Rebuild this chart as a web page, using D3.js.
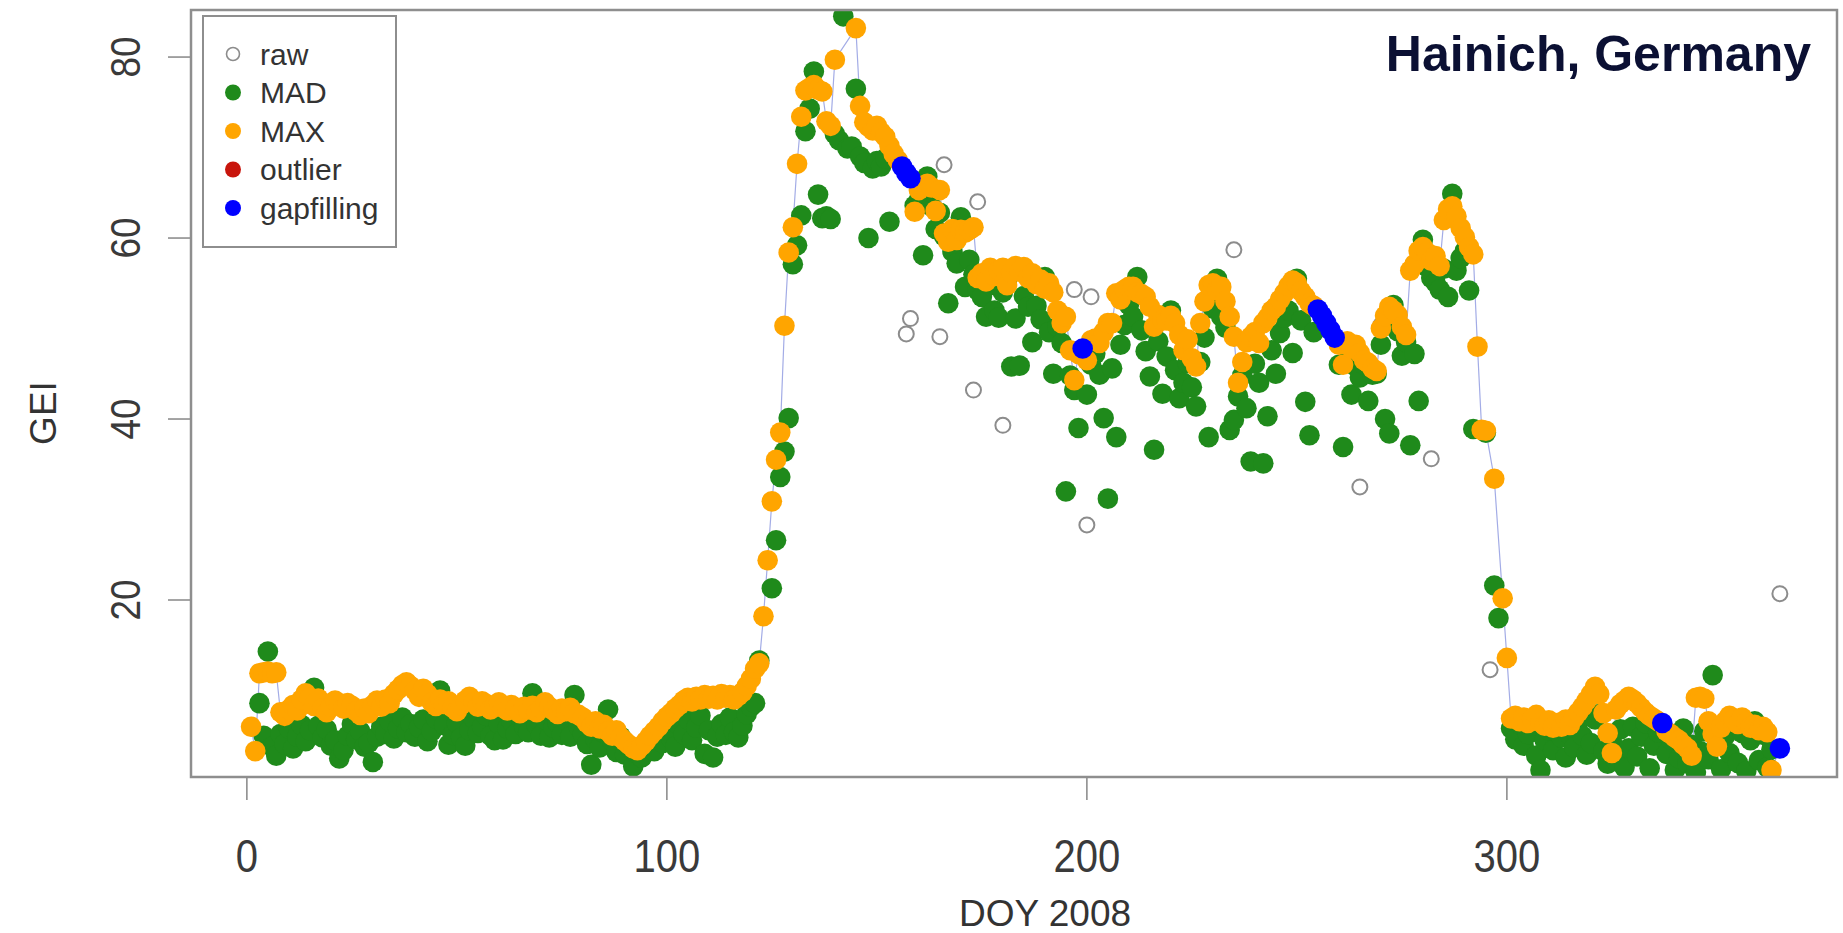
<!DOCTYPE html>
<html lang='en'>
  <head>
    <meta charset="utf-8">
    <title>GEI Hainich</title>
    <style>
      body { margin: 0; background: #ffffff; }
      text { font-family: "Liberation Sans", Arial, sans-serif; }
    </style>
    <!-- Load d3.js -->
    <script src="https://d3js.org/d3.v7.min.js"></script>
  </head>
  <body>

    <div id="gei_plot"></div>

  <script>

    // MAX filtered GEI, one value per DOY 1..366 (null = no point)
    var maxVal = [
      6.0, 3.3, 11.9, 12.0, 12.1, 11.9, 12.0, 7.6, 7.2, 7.9,
      8.4, 7.8, 9.0, 9.7, 9.2, 8.3, 9.1, 8.0, 7.6, 8.2,
      8.9, 8.4, 8.0, 8.6, 8.3, 7.7, 7.3, 8.0, 7.5, 8.4,
      8.9, 8.2, 9.0, 8.6, 9.6, 10.1, 10.6, 10.9, 10.5, 10.0,
      9.3, 10.2, 9.6, 8.7, 8.3, 9.0, 8.5, 8.8, 8.1, 7.7,
      8.4, 8.9, 9.3, 8.7, 8.2, 8.8, 8.5, 7.9, 8.3, 8.7,
      8.1, 7.8, 8.4, 8.0, 7.5, 8.2, 7.9, 8.3, 7.6, 8.0,
      8.7, 8.2, 7.8, 7.4, 8.0, 7.7, 8.1, 7.5, 7.3, 7.0,
      6.4, 6.0, 6.6, 5.8, 6.2, 5.5, 5.0, 5.6, 4.8, 4.4,
      4.0, 3.6, 3.4, 3.9, 4.4, 5.0, 5.5, 6.0, 6.6, 7.1,
      7.5, 8.0, 8.4, 8.9, 9.2, 8.8, 9.3, 9.0, 9.5, 9.1,
      9.4, 9.0, 9.6, 9.2, 9.5, 9.0, 9.4, 9.8, 10.5, 11.3,
      12.4, 13.0, 18.2, 24.4, 30.9, 35.5, 38.5, 50.3, 58.4, 61.2,
      68.2, 73.4, 76.3, 76.6, 76.9, 76.4, 76.2, 72.9, 72.4, 79.7,
      null, null, null, null, 83.2, 74.6, 72.8, 72.3, 71.9, 72.4,
      71.7, 71.2, 70.2, 69.3, 68.6, null, null, null, 62.9, 65.3,
      65.8, 66.0, 65.6, 63.0, 65.3, 60.5, 59.6, 61.0, 59.8, 60.9,
      60.6, 60.9, 61.2, 55.6, 56.1, 55.2, 56.7, 55.8, 56.4, 56.7,
      54.8, 56.2, 56.9, 56.3, 56.8, 55.6, 56.1, 54.9, 55.4, 54.4,
      55.0, 54.0, 52.0, 50.6, 51.3, 47.6, 44.3, 47.2, null, 46.5,
      48.7, 48.9, 48.4, 49.6, 50.6, 50.6, 53.9, 53.2, 54.3, 54.6,
      54.6, 54.0, 53.8, 53.5, 52.4, 50.2, 51.5, 50.9, 50.9, 51.4,
      50.6, 49.3, 47.6, 48.8, 46.7, 45.8, 50.6, 53.0, 54.8, 55.0,
      54.2, 54.6, 53.0, 51.3, 49.1, 44.0, 46.3, 48.5, 49.1, 49.6,
      48.4, 50.6, 51.2, 52.0, 52.4, 53.2, 53.9, 54.7, 55.3, 55.0,
      54.1, 53.5, 52.8, 52.5, null, null, null, null, null, 48.2,
      46.0, 48.6, 47.8, 48.2, 47.3, 46.5, 46.2, 45.6, 45.3, 50.0,
      51.4, 52.4, 52.0, 51.5, 50.2, 49.3, 56.4, 57.1, 58.6, 59.0,
      58.4, 57.5, 58.0, 56.9, 62.0, 63.2, 63.5, 62.4, 61.1, 60.1,
      59.0, 58.2, 48.0, 38.8, 38.7, null, 33.4, null, 20.2, 13.6,
      6.9, 7.2, 6.6, 7.0, 6.4, 6.8, 7.3, 6.5, 6.1, 6.7,
      5.9, 6.4, 6.0, 6.8, 6.2, 7.0, 7.6, 8.2, 8.9, 9.6,
      10.4, 9.6, 7.5, 5.3, 3.1, 7.9, 8.5, 8.9, 9.3, 9.0,
      8.6, 8.1, 7.6, 7.2, 6.9, 6.6, null, 5.5, 5.2, 4.8,
      4.5, 4.0, 3.6, 2.8, 9.2, 9.3, 9.1, 6.6, 5.2, 3.8,
      5.9, 6.6, 7.2, 6.8, 6.3, 7.0, 6.5, 5.9, 6.2, 5.6,
      6.0, 5.4, 1.2, null, null, null
    ];

    // MAD filtered GEI, one value per DOY 1..366
    var madVal = [
      null, null, 8.6, 5.0, 14.3, 3.8, 2.8, 5.2, 4.1, 5.8,
      3.6, 4.9, 6.2, 4.4, 5.6, 10.3, 6.1, 4.8, 5.7, 3.9,
      4.5, 2.5, 3.4, 5.0, 6.3, 4.6, 5.5, 3.8, 4.2, 2.1,
      4.9, 6.0, 5.2, 6.6, 4.7, 5.8, 7.0, 5.4, 6.3, 4.9,
      5.9, 6.8, 4.4, 5.5, 6.9, 10.0, 6.2, 4.0, 5.1, 6.4,
      4.8, 3.9, 5.6, 6.9, 5.3, 6.0, 7.2, 5.0, 4.5, 6.3,
      4.6, 5.8, 6.6, 5.2, 7.1, 6.0, 5.4, 9.7, 6.2, 5.0,
      6.8, 4.8, 5.9, 6.4, 5.1, 6.7, 4.9, 9.5, 6.0, 5.2,
      4.1, 1.8, 4.6, 3.7, 5.3, 7.9, 4.4, 3.2, 4.9, 2.9,
      3.8, 1.6, 3.0, 2.6, 3.9, 4.6, 3.3, 5.0, 4.2, 5.6,
      4.7, 3.8, 6.1, 5.2, 6.8, 4.5, 5.9, 7.2, 3.0, 5.6,
      2.6, 4.9, 6.3, 5.1, 7.0, 5.4, 4.8, 6.1, 7.4, 8.2,
      8.6, 13.3, null, null, 21.3, 26.6, 33.6, 36.4, 40.1, 57.1,
      59.2, 62.5, 71.8, 74.3, 78.4, 64.8, 62.2, 62.4, 62.1, 71.5,
      70.8, 84.5, 69.9, 70.1, 76.5, 69.0, 68.3, 60.0, 67.7, 68.5,
      67.9, 68.8, 61.8, 69.0, null, null, null, null, 63.6, 64.2,
      58.1, 66.8, 63.5, 61.0, 62.8, 60.2, 52.8, 58.5, 57.2, 62.3,
      54.6, 57.6, 56.0, 54.2, 53.5, 51.3, 54.8, 52.0, 51.2, 54.0,
      55.4, 45.8, 51.1, 45.9, 53.6, 52.4, 48.5, 52.5, 51.0, 55.7,
      49.6, 45.0, 50.2, 48.4, 32.0, 44.8, 43.2, 39.0, null, 42.7,
      46.0, 47.2, 44.9, 40.1, 31.2, 45.6, 38.0, 48.2, 50.4, 52.6,
      51.3, 55.7, 49.8, 47.5, 44.7, 36.6, 48.6, 42.8, 46.9, 52.0,
      45.4, 42.3, 44.0, 46.2, 43.5, 41.4, 46.3, 49.0, 38.0, 52.2,
      55.5, 51.3, 50.1, 38.8, 39.9, 42.5, 44.8, 41.2, 35.3, 46.1,
      44.0, 35.1, 40.3, 47.6, 45.0, 49.5, 51.2, 52.0, 47.3, 55.5,
      50.9, 41.9, 38.2, 49.6, null, null, null, null, null, 46.0,
      36.9, 46.4, 42.7, 45.8, 44.6, 46.0, 42.0, 44.9, 45.0, 48.2,
      40.0, 38.4, 52.6, 49.7, 47.0, 48.5, 37.1, 47.2, 42.0, 59.8,
      56.8, 55.6, 55.1, 54.3, 56.6, 53.5, 64.9, 56.4, 57.8, 58.6,
      54.2, 38.9, null, null, 38.5, null, 21.6, 18.0, null, null,
      5.8, 4.6, 6.3, 3.9, 5.2, 6.1, 2.8, 1.2, 4.5, 5.6,
      3.4, 6.2, 4.8, 2.6, 5.1, 3.7, 6.5, 5.0, 2.9, 4.2,
      6.8, 7.4, 3.3, 1.9, 4.4, 2.2, 5.7, 1.5, 3.6, 6.0,
      2.7, 4.9, 6.4, 1.4, 3.9, 5.4, null, 3.0, 4.6, 1.2,
      2.5, 5.8, 1.9, 4.0, 1.0, 3.3, 5.5, 2.4, 11.7, 4.1,
      1.3, 5.0, 3.1, 6.9, 2.0, 5.3, 1.1, 4.5, 6.6, 2.3,
      5.1, 1.5, 3.5, null, null, null
    ];

    // raw values that were removed by the filters (visible as open circles)
    var rawDoy = [157, 158, 165, 166, 173, 174, 180, 197, 200, 201, 235, 265, 270, 282, 296, 365];
    var rawVal = [49.4, 51.1, 49.1, 68.1, 43.2, 64.0, 39.3, 54.3, 28.3, 53.5, 58.7, 32.5, 50.4, 35.6, 12.3, 20.7];

    // gap filled days
    var gapDoy = [156, 157, 158, 199, 255, 256, 257, 258, 259, 337, 365];
    var gapVal = [67.9, 67.2, 66.6, 47.8, 52.1, 51.4, 50.6, 49.8, 49.0, 6.4, 3.6];

    // outliers (none flagged this year)
    var outDoy = [];
    var outVal = [];

    var xTicks = [0, 100, 200, 300];
    var yTicks = [20, 40, 60, 80];
    var legendLabels = ["raw", "MAD", "MAX", "outlier", "gapfilling"];
    var legendColors = ["none", "#1f8a1b", "#ffa500", "#c8150c", "#0000ff"];

    var W = 1843, H = 933;
    var box = {left: 191, right: 1837, top: 10, bottom: 777};

    var svg = d3.select("#gei_plot")
      .append("svg")
        .attr("width", W)
        .attr("height", H);

    var x = d3.scaleLinear()
      .domain([-13.3, 378.6])
      .range([box.left, box.right]);

    var y = d3.scaleLinear()
      .domain([0.44, 85.2])
      .range([box.bottom, box.top]);

    // turn the day arrays into point lists
    function toPoints(vals) {
      var pts = [];
      vals.forEach(function(v, i) { if (v !== null) pts.push({doy: i + 1, v: v}); });
      return pts;
    }
    function pairs(ds, vs) {
      return ds.map(function(d, i) { return {doy: d, v: vs[i]}; });
    }

    var madPts = toPoints(madVal);
    var maxPts = toPoints(maxVal);
    var rawPts = pairs(rawDoy, rawVal);
    var gapPts = pairs(gapDoy, gapVal);
    var outPts = pairs(outDoy, outVal);

    // final series = MAX plus gap filled values
    var finalPts = maxPts.concat(gapPts).sort(function(a, b) { return a.doy - b.doy; });

    svg.append("clipPath").attr("id", "plotclip")
      .append("rect")
        .attr("x", box.left).attr("y", box.top)
        .attr("width", box.right - box.left).attr("height", box.bottom - box.top);

    var plot = svg.append("g").attr("clip-path", "url(#plotclip)");

    // thin line of the final series
    var line = d3.line()
      .x(function(d) { return x(d.doy) })
      .y(function(d) { return y(d.v) });
    plot.append("path")
      .attr("d", line(finalPts))
      .attr("fill", "none")
      .attr("stroke", "#a3ace6")
      .attr("stroke-width", 1.2);

    // raw
    plot.selectAll("rawPts")
      .data(rawPts)
      .enter()
      .append("circle")
        .attr("cx", function(d) { return x(d.doy) })
        .attr("cy", function(d) { return y(d.v) })
        .attr("r", 7.5)
        .attr("fill", "none")
        .attr("stroke", "#8c8c8c")
        .attr("stroke-width", 2);

    function dots(pts, color, r) {
      plot.append("g")
        .attr("fill", color)
        .selectAll("circle")
        .data(pts)
        .enter()
        .append("circle")
          .attr("cx", function(d) { return x(d.doy) })
          .attr("cy", function(d) { return y(d.v) })
          .attr("r", r);
    }
    dots(madPts, legendColors[1], 10.3);
    dots(maxPts, legendColors[2], 10.3);
    dots(outPts, legendColors[3], 10.3);
    dots(gapPts, legendColors[4], 10.3);

    // box
    svg.append("rect")
      .attr("x", box.left).attr("y", box.top)
      .attr("width", box.right - box.left).attr("height", box.bottom - box.top)
      .attr("fill", "none")
      .attr("stroke", "#8e8e8e")
      .attr("stroke-width", 2.5);

    // x axis
    var xa = svg.append("g");
    xa.selectAll("line")
      .data(xTicks).enter().append("line")
        .attr("x1", function(d) { return x(d) }).attr("x2", function(d) { return x(d) })
        .attr("y1", box.bottom).attr("y2", box.bottom + 23)
        .attr("stroke", "#8e8e8e").attr("stroke-width", 1.6);
    xa.selectAll("text")
      .data(xTicks).enter().append("text")
        .attr("transform", function(d) { return "translate(" + x(d) + ",872) scale(0.87,1)" })
        .attr("text-anchor", "middle")
        .style("font-size", "46px")
        .style("fill", "#3a3a3a")
        .text(function(d) { return d });

    // y axis
    var ya = svg.append("g");
    ya.selectAll("line")
      .data(yTicks).enter().append("line")
        .attr("x1", box.left).attr("x2", box.left - 23)
        .attr("y1", function(d) { return y(d) }).attr("y2", function(d) { return y(d) })
        .attr("stroke", "#8e8e8e").attr("stroke-width", 1.6);
    ya.selectAll("text")
      .data(yTicks).enter().append("text")
        .attr("transform", function(d) { return "translate(140," + y(d) + ") rotate(-90) scale(0.88,1)" })
        .attr("text-anchor", "middle")
        .style("font-size", "42px")
        .style("fill", "#3a3a3a")
        .text(function(d) { return d });

    // axis titles
    svg.append("text")
      .attr("x", 1045).attr("y", 926)
      .attr("text-anchor", "middle")
      .style("font-size", "37px")
      .style("fill", "#333")
      .text("DOY 2008");
    svg.append("text")
      .attr("transform", "translate(56,413) rotate(-90)")
      .attr("text-anchor", "middle")
      .style("font-size", "37px")
      .style("fill", "#333")
      .text("GEI");

    // site title
    svg.append("text")
      .attr("x", 1811).attr("y", 71)
      .attr("text-anchor", "end")
      .style("font-size", "50px")
      .style("font-weight", "bold")
      .style("fill", "#0b1033")
      .text("Hainich, Germany");

    // legend
    var lg = svg.append("g");
    lg.append("rect")
      .attr("x", 203).attr("y", 16).attr("width", 193).attr("height", 231)
      .attr("fill", "#ffffff")
      .attr("stroke", "#8e8e8e")
      .attr("stroke-width", 2);
    var rows = lg.selectAll("g.row")
      .data(legendLabels).enter().append("g")
        .attr("transform", function(d, i) { return "translate(0," + (54 + i * 38.5) + ")" });
    rows.append("circle")
      .attr("cx", 233).attr("cy", 0)
      .attr("r", function(d, i) { return i === 0 ? 6.5 : 8 })
      .attr("fill", function(d, i) { return legendColors[i] })
      .attr("stroke", function(d, i) { return i === 0 ? "#8c8c8c" : "none" })
      .attr("stroke-width", 1.6);
    rows.append("text")
      .attr("x", 260).attr("y", 0)
      .attr("dy", "0.35em")
      .style("font-size", "30px")
      .style("fill", "#333")
      .text(function(d) { return d });

  </script>

  </body>
</html>
